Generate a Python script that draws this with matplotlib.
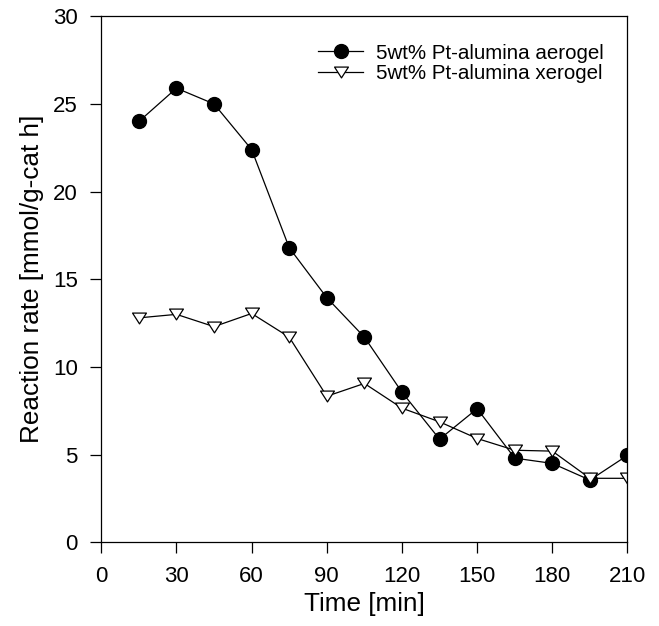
import matplotlib.pyplot as plt
from matplotlib.path import Path

plt.rcParams['font.family'] = ['Liberation Sans', 'DejaVu Sans']

# Data
time_min = [15, 30, 45, 60, 75, 90, 105, 120, 135, 150, 165, 180, 195, 210]
aerogel = [24.0, 25.9, 25.0, 22.4, 16.8, 13.95, 11.7, 8.56, 5.88, 7.62, 4.8, 4.5, 3.55, 4.96]
xerogel = [12.8, 13.0, 12.3, 13.05, 11.7, 8.33, 9.06, 7.65, 6.87, 5.92, 5.25, 5.2, 3.65, 3.65]

label_aero = "5wt% Pt-alumina aerogel"
label_xero = "5wt% Pt-alumina xerogel"

xticks = [0, 30, 60, 90, 120, 150, 180, 210]
yticks = [0, 5, 10, 15, 20, 25, 30]

# wide, flat down-pointing triangle like the original
tri_down = Path([(-1, 0.78), (1, 0.78), (0, -0.78), (-1, 0.78)],
                [Path.MOVETO, Path.LINETO, Path.LINETO, Path.CLOSEPOLY])

fig = plt.figure(figsize=(6.59, 6.26), dpi=100)
ax = fig.add_axes([0.1537, 0.1337, 0.7985, 0.8403])

ax.plot(time_min, aerogel, color='black', lw=0.9, marker='o', markersize=10,
        markerfacecolor='black', markeredgecolor='black', label=label_aero)
ax.plot(time_min, xerogel, color='black', lw=0.9, marker=tri_down, markersize=10,
        markerfacecolor='white', markeredgecolor='black', markeredgewidth=0.9,
        label=label_xero)

ax.set_xlim(0, 210)
ax.set_ylim(0, 30)
ax.set_xticks(xticks)
ax.set_yticks(yticks)
ax.tick_params(direction='out', length=8, width=0.9, labelsize=16, top=False, right=False)
ax.tick_params(axis='x', pad=9)
ax.tick_params(axis='y', pad=9)
for s in ax.spines.values():
    s.set_linewidth(0.9)

ax.set_xlabel("Time [min]", fontsize=18.8, labelpad=4)
ax.set_ylabel("Reaction rate [mmol/g-cat h]", fontsize=18.8, labelpad=6)

ax.legend(loc='upper left', bbox_to_anchor=(0.412, 0.948), frameon=False, fontsize=14.8,
          handlelength=2.2, handletextpad=0.64, labelspacing=0.08, borderpad=0, borderaxespad=0)

fig.savefig("out.png", dpi=100)
